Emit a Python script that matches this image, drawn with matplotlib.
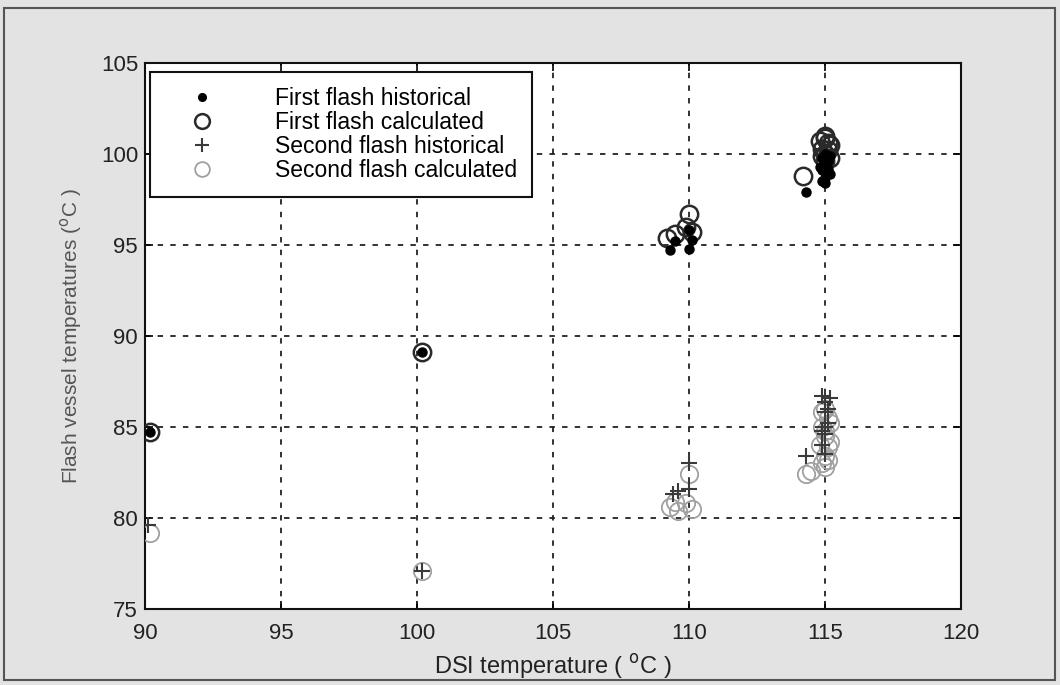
import matplotlib
matplotlib.use("Agg")
import matplotlib.pyplot as plt
from matplotlib.patches import Rectangle

# ---- data ----
ff_hist_x = [90.2, 100.2, 109.3, 109.5, 110.0, 110.0, 110.1, 114.3, 114.9, 115.0, 115.0, 115.1,
             115.0, 114.9, 115.1, 115.0, 115.2, 114.8, 115.0, 115.2, 114.9, 115.1]
ff_hist_y = [84.7, 89.1, 94.7, 95.2, 94.8, 95.8, 95.3, 97.9, 98.5, 98.7, 99.0, 99.2,
             99.5, 99.8, 99.6, 98.4, 99.9, 99.3, 100.0, 98.9, 99.1, 99.7]

ff_calc_x = [90.2, 100.2, 109.2, 109.5, 109.9, 110.0, 110.1, 114.2, 115.0, 114.9, 115.1,
             115.0, 115.2, 114.9, 115.0, 115.1, 114.8, 115.2, 115.0]
ff_calc_y = [84.7, 89.1, 95.4, 95.6, 96.0, 96.7, 95.7, 98.8, 100.0, 100.3, 100.6,
             100.9, 100.5, 99.9, 99.6, 100.2, 100.7, 99.8, 101.0]

sf_hist_x = [90.1, 100.2, 109.4, 109.6, 110.0, 110.0, 114.3, 114.9, 115.0, 115.0, 115.1,
             115.0, 114.9, 115.0, 115.1, 115.0, 115.2, 114.9]
sf_hist_y = [79.6, 77.1, 81.3, 81.5, 83.0, 81.6, 83.4, 86.7, 86.4, 85.8, 85.2,
             84.6, 84.0, 83.5, 86.0, 85.0, 86.6, 84.8]

sf_calc_x = [90.2, 100.2, 109.3, 109.6, 109.9, 110.0, 110.1, 109.5, 114.3, 114.5, 114.9, 115.0,
             115.1, 115.0, 114.9, 115.1, 115.0, 115.0, 115.2, 114.8, 115.2, 114.9, 115.1, 115.0]
sf_calc_y = [79.2, 77.1, 80.6, 80.4, 80.8, 82.4, 80.5, 80.9, 82.4, 82.6, 83.0, 83.4,
             83.9, 84.5, 85.0, 85.5, 86.0, 82.8, 84.2, 84.0, 85.2, 85.8, 83.2, 84.8]

labels = ["First flash historical", "First flash calculated",
          "Second flash historical", "Second flash calculated"]
x_ticks = [90, 95, 100, 105, 110, 115, 120]
y_ticks = [75, 80, 85, 90, 95, 100, 105]

plt.rcParams['font.family'] = ['Liberation Sans', 'DejaVu Sans']

fig = plt.figure(figsize=(10.6, 6.85), dpi=100, facecolor="#e3e3e3")
ax = fig.add_axes([145/1060, 1 - 609/685, (961-145)/1060, (609-63)/685])
ax.set_facecolor("white")

# outer frame of the figure
fig.patches.append(Rectangle((4/1060, 5/685), 1051/1060, 672/685, transform=fig.transFigure,
                             fill=False, edgecolor="#555555", linewidth=1.5))

ax.plot(sf_calc_x, sf_calc_y, ls='none', marker='o', ms=12.5, mfc='none', mec='#a0a0a0', mew=1.3,
        label=labels[3], zorder=3)
ax.plot(sf_hist_x, sf_hist_y, ls='none', marker='+', ms=12, mec='#3a3a3a', mew=1.5,
        label=labels[2], zorder=4)
ax.plot(ff_calc_x, ff_calc_y, ls='none', marker='o', ms=12.5, mfc='none', mec='#2a2a2a', mew=1.8,
        label=labels[1], zorder=3)
ax.plot(ff_hist_x, ff_hist_y, ls='none', marker='o', ms=6.5, mfc='black', mec='black',
        label=labels[0], zorder=4)

ax.set_xlim(90, 120)
ax.set_ylim(75, 105)
ax.set_xticks(x_ticks)
ax.set_yticks(y_ticks)
ax.grid(True, color='#222222', linestyle=(0, (3, 4)), linewidth=1.3)
ax.tick_params(direction='in', top=True, right=True, length=6, width=1.2, colors='black')
for lab in ax.get_xticklabels() + ax.get_yticklabels():
    lab.set_fontsize(16)
    lab.set_color('#222222')
ax.tick_params(axis='x', pad=10)
ax.tick_params(axis='y', pad=5)
for s in ax.spines.values():
    s.set_linewidth(1.5)
    s.set_color('#111111')

ax.set_xlabel("DSI temperature ( $^{\\mathrm{o}}$C )", fontsize=17, color='#222222', labelpad=6)
ax.set_ylabel("Flash vessel temperatures ($^{\\mathrm{o}}$C )", fontsize=15, color='#555555',
              labelpad=12)

h, l = ax.get_legend_handles_labels()
order = [3, 2, 1, 0]
leg = ax.legend([h[i] for i in order], [l[i] for i in order], loc='upper left',
                bbox_to_anchor=(5/816, 1 - 9/546), borderaxespad=0, fontsize=16.5,
                handlelength=3.2, handletextpad=1.6, labelspacing=0.05, borderpad=0.65,
                fancybox=False, framealpha=1, edgecolor='#111111', markerscale=0.85)
leg.get_frame().set_linewidth(1.5)

fig.savefig("out.png", dpi=100, facecolor=fig.get_facecolor())
